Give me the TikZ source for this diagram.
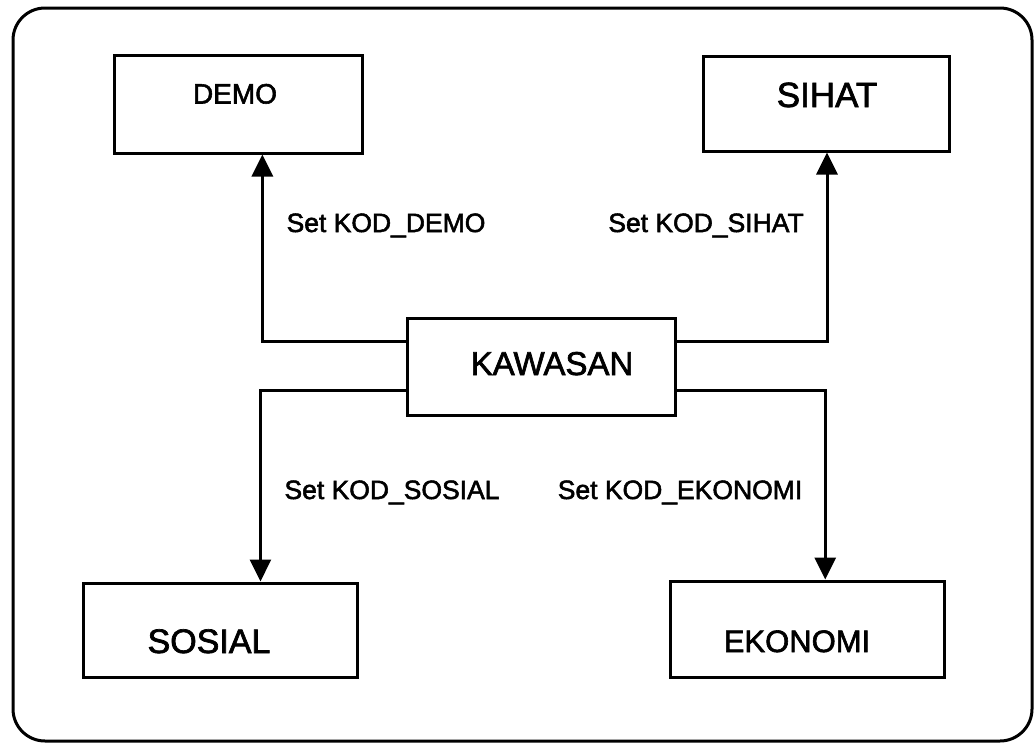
\documentclass[tikz,border=0pt]{standalone}
\usepackage{fontspec}
\setmainfont{Liberation Sans}[RawFeature={embolden=2}]
\usetikzlibrary{arrows.meta,calc}
\begin{document}
\begin{tikzpicture}[x=1pt,y=-1pt,
  box/.style={draw,line width=3pt,inner sep=0pt,rectangle},
  frame/.style={draw,line width=3pt,rounded corners=32pt,inner sep=0pt,rectangle},
  boxtext/.style={inner sep=0pt,anchor=base},
  lbl/.style={inner sep=0pt,anchor=base,font=\fontsize{26.5}{28}\selectfont},
  conn/.style={line width=3pt,-{Triangle[length=22pt,width=21pt]}},
]
\useasboundingbox (0,0) rectangle (1036,744);
% outer frame
\node[frame,minimum width=1019pt,minimum height=733pt] (frame) at (522.5,374.5) {};
% boxes
\node[box,minimum width=248pt,minimum height=98pt] (demo) at (238,104) {};
\node[box,minimum width=246pt,minimum height=95pt] (sihat) at (826,103.5) {};
\node[box,minimum width=268pt,minimum height=97pt] (kaw) at (541,366.5) {};
\node[box,minimum width=274pt,minimum height=94pt] (sosial) at (220,630) {};
\node[box,minimum width=274pt,minimum height=96pt] (ekonomi) at (807,629) {};
% box texts
\node[boxtext,font=\fontsize{28}{30}\selectfont] (tdemo) at (235,103.5) {DEMO};
\node[boxtext,font=\fontsize{35}{37}\selectfont] (tsihat) at (827,107) {SIHAT};
\node[boxtext,font=\fontsize{33}{35}\selectfont] (tkaw) at (552,375) {KAWASAN};
\node[boxtext,font=\fontsize{34}{36}\selectfont] (tsosial) at (209,653) {SOSIAL};
\node[boxtext,font=\fontsize{31}{33}\selectfont] (tekonomi) at (797,652) {EKONOMI};
% connectors
\draw[conn] ($(kaw.north west)!0.25!(kaw.south west)$) -| ($(demo.south west)!0.597!(demo.south east)$);
\draw[conn] ($(kaw.north east)!0.25!(kaw.south east)$) -| ($(sihat.south west)!0.504!(sihat.south east)$);
\draw[conn] ($(kaw.north west)!0.742!(kaw.south west)$) -| ($(sosial.north west)!0.646!(sosial.north east)$);
\draw[conn] ($(kaw.north east)!0.742!(kaw.south east)$) -| ($(ekonomi.north west)!0.566!(ekonomi.north east)$);
% labels
\node[lbl] (ldemo) at (386,232) {Set KOD\_DEMO};
\node[lbl] (lsihat) at (706,232) {Set KOD\_SIHAT};
\node[lbl] (lsosial) at (392,499) {Set KOD\_SOSIAL};
\node[lbl] (lekonomi) at (680,499) {Set KOD\_EKONOMI};
\end{tikzpicture}
\end{document}
